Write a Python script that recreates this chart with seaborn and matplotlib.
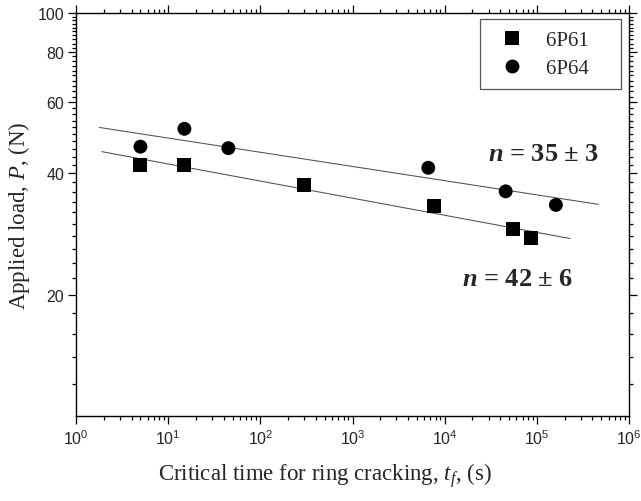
import numpy as np
import pandas as pd
import matplotlib
matplotlib.use("Agg")
import matplotlib.pyplot as plt
import seaborn as sns
from matplotlib.ticker import FixedLocator, NullFormatter, FuncFormatter

# ---- data ----
series_names = ["6P61", "6P64"]
t_6p61 = [5, 15, 300, 7660, 55600, 85700]
p_6p61 = [42.0, 42.0, 37.4, 33.2, 29.1, 27.7]
t_6p64 = [5, 15, 45, 6640, 45900, 161000]
p_6p64 = [46.6, 51.6, 46.2, 41.3, 36.1, 33.4]
fit_start = [1.9, 1.79]
fit_end = [2.29e5, 4.64e5]
n_labels = ["42 \u00b1 6", "35 \u00b1 3"]
x_exponents = [0, 1, 2, 3, 4, 5, 6]
y_major = [20, 40, 60, 80, 100]
y_minor = [v for v in range(12, 100, 2) if v not in (20, 40, 60, 80)]

df = pd.concat([
    pd.DataFrame({"t": t_6p61, "P": p_6p61, "sample": series_names[0]}),
    pd.DataFrame({"t": t_6p64, "P": p_6p64, "sample": series_names[1]}),
], ignore_index=True)

sns.set_style("ticks")
plt.rcParams.update({
    "font.family": ["Liberation Serif", "DejaVu Serif"],
    "mathtext.fontset": "custom",
    "mathtext.rm": "Liberation Serif",
    "mathtext.it": "Liberation Serif:italic",
    "mathtext.bf": "Liberation Serif:bold",
    "mathtext.bfit": "Liberation Serif:italic:bold",
    "axes.linewidth": 1.0,
    "axes.edgecolor": "black",
})

fig = plt.figure(figsize=(6.41, 5.02), dpi=100)
ax = fig.add_axes([0.1186, 0.1693, 0.9813 - 0.1186, 0.9721 - 0.1693])

sns.scatterplot(data=df, x="t", y="P", style="sample",
                markers={"6P61": "s", "6P64": "o"},
                color="black", s=100, linewidth=0, ax=ax, zorder=3)

# fitted power-law lines (log-log regression of each series)
for name, t0, t1 in zip(series_names, fit_start, fit_end):
    sub = df[df["sample"] == name]
    k, b = np.polyfit(np.log10(sub["t"]), np.log10(sub["P"]), 1)
    tt = np.geomspace(t0, t1, 50)
    ax.plot(tt, 10 ** (b + k * np.log10(tt)), color="#505050", lw=0.75, zorder=2)

ax.set_xscale("log")
ax.set_yscale("log")
ax.set_xlim(1, 1e6)
ax.set_ylim(10, 100)

x_major = [10.0 ** e for e in x_exponents]
x_minor = [m * 10.0 ** e for e in x_exponents[:-1] for m in range(2, 10)]
ax.xaxis.set_major_locator(FixedLocator(x_major))
ax.xaxis.set_major_formatter(
    FuncFormatter(lambda v, p: r"$\mathdefault{10^{%d}}$" % round(np.log10(v))))
ax.xaxis.set_minor_locator(FixedLocator(x_minor))
ax.xaxis.set_minor_formatter(NullFormatter())
ax.yaxis.set_major_locator(FixedLocator(y_major))
ax.yaxis.set_major_formatter(FuncFormatter(lambda v, p: f"{v:g}"))
ax.yaxis.set_minor_locator(FixedLocator(y_minor))
ax.yaxis.set_minor_formatter(NullFormatter())

ax.tick_params(which="both", direction="out", top=True, right=True,
               width=0.9, color="black")
ax.tick_params(which="major", length=5.5, labelsize=11.5,
               labelfontfamily="Liberation Sans", pad=3)
ax.tick_params(which="minor", length=3)
for s in ax.spines.values():
    s.set_visible(True)

ax.set_xlabel("Critical time for ring cracking, $t_f$, (s)", fontsize=16.5)
ax.xaxis.set_label_coords(0.45, -0.11)
ax.set_ylabel("Applied load, $P$, (N)", fontsize=16.5)
ax.yaxis.set_label_coords(-0.08, 0.5)

handles, labels = ax.get_legend_handles_labels()
labels = [lab + "    " for lab in labels]
leg = ax.legend(handles, labels, loc="upper right",
                bbox_to_anchor=(0.9855, 0.985), fontsize=15,
                frameon=True, fancybox=False, framealpha=1,
                edgecolor="#555555", borderpad=0.55, labelspacing=0.4,
                handlelength=2.0, handletextpad=0.62,
                borderaxespad=0, markerscale=1.0)
leg.get_frame().set_linewidth(0.9)

ax.text(2.95e4, 44.9, r"$\mathbfit{n}$ = " + n_labels[1], fontsize=19,
        fontweight="bold", va="center", ha="left")
ax.text(1.54e4, 21.9, r"$\mathbfit{n}$ = " + n_labels[0], fontsize=19,
        fontweight="bold", va="center", ha="left")

fig.savefig("out.png", dpi=100)
